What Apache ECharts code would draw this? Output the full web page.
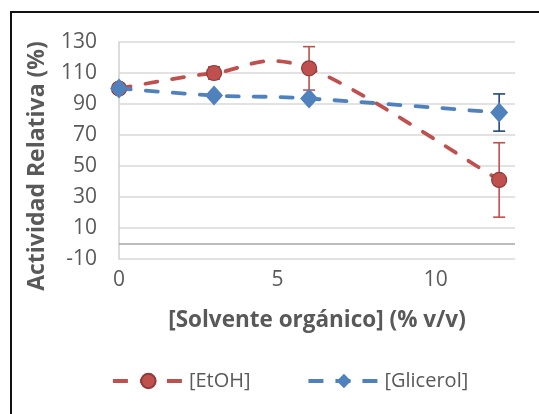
<!DOCTYPE html>
<html>
<head>
<meta charset="utf-8">
<script src="https://cdn.jsdelivr.net/npm/echarts@6/dist/echarts.min.js"></script>
<style>
  html, body { margin: 0; padding: 0; background: #fff; }
  #frame { position: absolute; left: 10px; top: 11px; width: 560px; height: 440px;
           border-left: 2px solid #111; border-top: 2px solid #111; }
  #chart { position: absolute; left: 0; top: 0; width: 539px; height: 414px; }
</style>
</head>
<body>
<div id="frame"></div>
<div id="chart"></div>
<script>
// Solvent concentration (% v/v)
const solvent = [0, 3, 6, 12];
// Relative activity (%) and standard deviation per solvent
const etohActivity = [100, 110, 113, 41];
const etohError = [0, 4, 14, 24];
const glicerolActivity = [100, 95.5, 93.5, 84.5];
const glicerolError = [0, 0, 0, 12];
const yTicks = { min: -10, max: 130, step: 20 };
const xTicks = { min: 0, max: 12.5, step: 5 };

const RED = '#C0504D';
const BLUE = '#4F81BD';
const TEXT = '#595959';
const FONT = '"Open Sans", "Liberation Sans", sans-serif';
const DASH = [12, 15];
const LEGEND_DASH = [15, 12];
const LINE_W = 3.8;

function pairs(xs, ys) { return xs.map((x, i) => [x, ys[i]]); }

// Smoothed dashed curve (Catmull-Rom style Bezier through the points)
function curveSeries(id, xs, ys, color) {
  return {
    id: id,
    name: id,
    type: 'custom',
    silent: true,
    z: 2,
    data: pairs(xs, ys),
    renderItem: function (params, api) {
      if (params.dataIndex !== 0) return null;
      const p = xs.map((x, i) => api.coord([x, ys[i]]));
      const n = p.length;
      let d = 'M' + p[0][0] + ' ' + p[0][1];
      for (let i = 0; i < n - 1; i++) {
        const a = p[Math.max(i - 1, 0)], b = p[i], c = p[i + 1], e = p[Math.min(i + 2, n - 1)];
        const c1 = [b[0] + (c[0] - a[0]) / 6, b[1] + (c[1] - a[1]) / 6];
        const c2 = [c[0] - (e[0] - b[0]) / 6, c[1] - (e[1] - b[1]) / 6];
        d += ' C' + c1[0] + ' ' + c1[1] + ' ' + c2[0] + ' ' + c2[1] + ' ' + c[0] + ' ' + c[1];
      }
      return {
        type: 'path',
        shape: { pathData: d },
        style: { fill: 'none', stroke: color, lineWidth: LINE_W, lineDash: DASH, lineCap: 'round' }
      };
    }
  };
}

function errorSeries(id, xs, ys, errs, color) {
  const data = xs.map((x, i) => [x, ys[i] - errs[i], ys[i] + errs[i]]).filter((d, i) => errs[i] > 0);
  return {
    id: id,
    name: id,
    type: 'custom',
    silent: true,
    z: 3,
    data: data,
    renderItem: function (params, api) {
      const lo = api.coord([api.value(0), api.value(1)]);
      const hi = api.coord([api.value(0), api.value(2)]);
      const w = 6;
      const style = { stroke: color, lineWidth: 1.6 };
      return {
        type: 'group',
        children: [
          { type: 'line', shape: { x1: lo[0], y1: lo[1], x2: hi[0], y2: hi[1] }, style: style },
          { type: 'line', shape: { x1: lo[0] - w, y1: lo[1], x2: lo[0] + w, y2: lo[1] }, style: style },
          { type: 'line', shape: { x1: hi[0] - w, y1: hi[1], x2: hi[0] + w, y2: hi[1] }, style: style }
        ]
      };
    }
  };
}

const chart = echarts.init(document.getElementById('chart'), null, { renderer: 'canvas' });
chart.setOption({
  animation: false,
  backgroundColor: 'transparent',
  textStyle: { fontFamily: FONT },
  grid: { left: 119, right: 24, top: 42, bottom: 155, containLabel: false },
  legend: {
    top: 366,
    left: 106,
    itemWidth: 71,
    itemHeight: 18,
    itemGap: 56,
    textStyle: { color: TEXT, fontSize: 20, fontFamily: FONT },
    data: [
      { name: '[EtOH]', lineStyle: { color: RED, width: LINE_W, type: LEGEND_DASH, opacity: 1 } },
      { name: '[Glicerol]', lineStyle: { color: BLUE, width: LINE_W, type: LEGEND_DASH, opacity: 1 } }
    ]
  },
  graphic: [{
    type: 'text',
    x: 37, y: 166,
    rotation: Math.PI / 2,
    style: {
      text: 'Actividad Relativa (%)',
      fill: TEXT, font: 'bold 23px ' + FONT,
      align: 'center', verticalAlign: 'middle'
    }
  }],
  xAxis: {
    type: 'value',
    min: xTicks.min,
    max: xTicks.max,
    interval: xTicks.step,
    name: '[Solvente orgánico] (% v/v)',
    nameLocation: 'middle',
    nameGap: 50,
    nameTextStyle: { color: TEXT, fontSize: 22.5, fontWeight: 'bold', fontFamily: FONT },
    axisLine: { show: false },
    axisTick: { show: false },
    splitLine: { show: false },
    axisLabel: { color: TEXT, fontSize: 21, margin: 11, fontFamily: FONT,
                 showMaxLabel: false }
  },
  yAxis: {
    type: 'value',
    min: yTicks.min,
    max: yTicks.max,
    interval: yTicks.step,
    axisLine: { show: true, lineStyle: { color: '#D0D0D0', width: 1.5 } },
    axisTick: { show: false },
    splitLine: { show: true, lineStyle: { color: '#D9D9D9', width: 1.5 } },
    axisLabel: { color: TEXT, fontSize: 21, margin: 22, fontFamily: FONT }
  },
  series: [
    {
      name: '[EtOH]',
      type: 'line',
      data: pairs(solvent, etohActivity),
      z: 4,
      color: RED,
      symbol: 'circle',
      symbolSize: 15,
      itemStyle: { color: RED, borderColor: '#8E3B39', borderWidth: 1.2 },
      lineStyle: { color: RED, width: LINE_W, type: DASH, opacity: 0 },
      markLine: {
        silent: true,
        symbol: 'none',
        label: { show: false },
        lineStyle: { color: '#A6A6A6', width: 1.5, type: 'solid', opacity: 1 },
        data: [{ yAxis: 0 }]
      }
    },
    {
      name: '[Glicerol]',
      type: 'line',
      data: pairs(solvent, glicerolActivity),
      z: 4,
      color: BLUE,
      symbol: 'diamond',
      symbolSize: [18, 20],
      itemStyle: { color: BLUE },
      lineStyle: { color: BLUE, width: LINE_W, type: DASH, opacity: 0 }
    },
    curveSeries('etoh-curve', solvent, etohActivity, RED),
    curveSeries('glicerol-curve', solvent, glicerolActivity, BLUE),
    errorSeries('etoh-error', solvent, etohActivity, etohError, RED),
    errorSeries('glicerol-error', solvent, glicerolActivity, glicerolError, '#1F497D')
  ]
});
</script>
</body>
</html>
